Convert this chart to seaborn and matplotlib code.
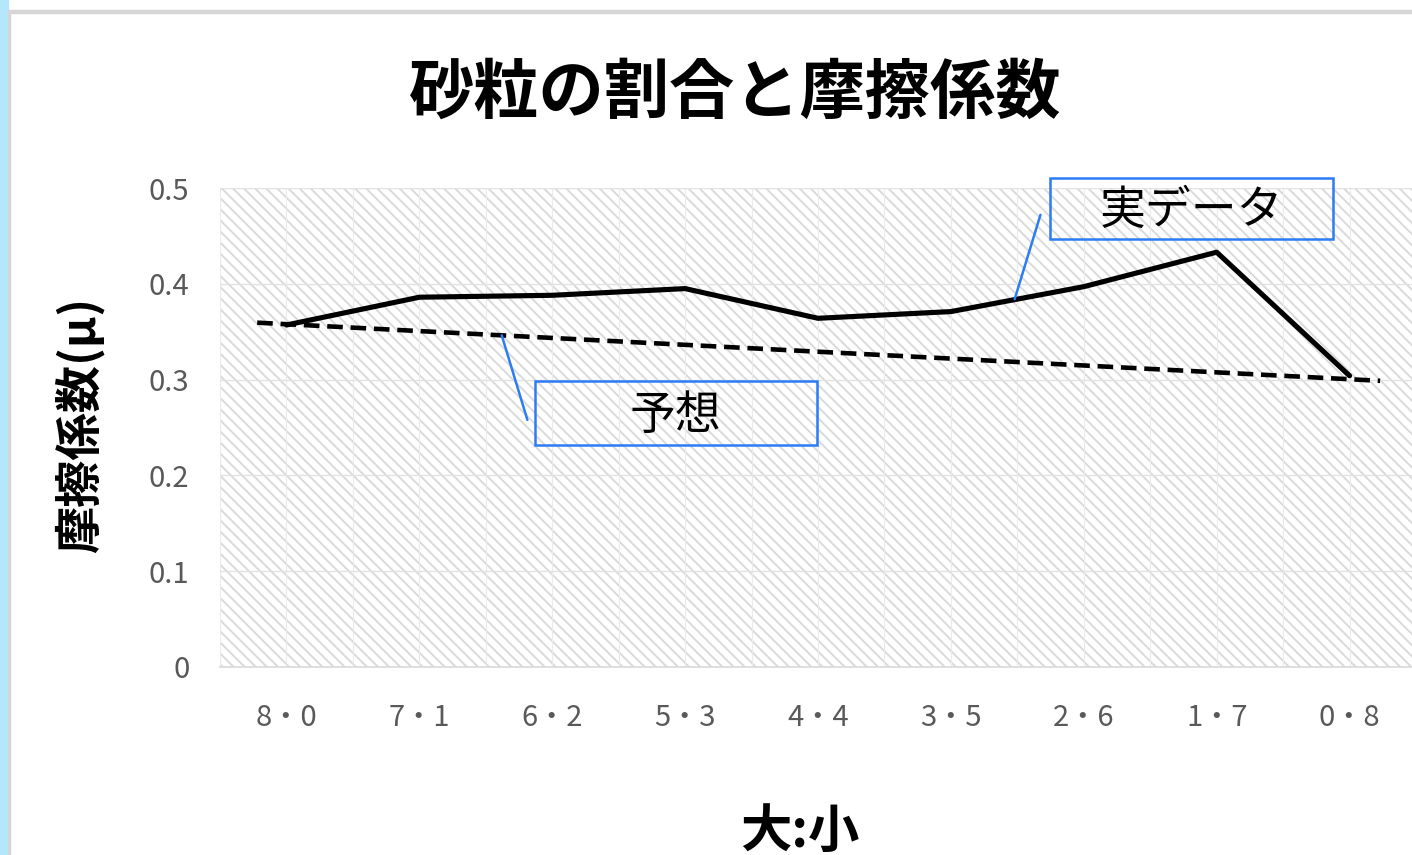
import numpy as np
import pandas as pd
import seaborn as sns
import matplotlib.pyplot as plt
import matplotlib.patches as mpatches

# ratio labels (large : small)
ratios = ['8・0', '7・1', '6・2', '5・3', '4・4', '3・5', '2・6', '1・7', '0・8']
# measured friction coefficient
jitsu_data = [0.357, 0.386, 0.388, 0.395, 0.364, 0.371, 0.397, 0.433, 0.304]
# expected (prediction line) values
yosou = [0.358, 0.351, 0.343, 0.336, 0.329, 0.322, 0.315, 0.308, 0.300]
y_ticks = [0, 0.1, 0.2, 0.3, 0.4, 0.5]
y_tick_labels = ['0', '0.1', '0.2', '0.3', '0.4', '0.5']

sns.set_style('white')
plt.rcParams['font.family'] = ['Noto Sans CJK JP', 'DejaVu Sans']
plt.rcParams['hatch.linewidth'] = 1.4
plt.rcParams['hatch.color'] = '#dadada'
plt.rcParams['text.color'] = 'black'

W, H = 1412, 855
fig = plt.figure(figsize=(W / 100, H / 100), dpi=100)
ax = fig.add_axes([220 / W, 1 - 667 / H, (1416 - 220) / W, (667 - 188) / H])

# screenshot frame: blue strip on the left and grey chart border
fig.patches.append(mpatches.Rectangle((0, 0), 8 / W, 1, transform=fig.transFigure,
                                      color='#b4e7fb', zorder=0))
fig.patches.append(mpatches.Rectangle((8 / W, 0), 2 / W, 1 - 11 / H, transform=fig.transFigure,
                                      color='#d6d6d6', zorder=0))
fig.patches.append(mpatches.Rectangle((8 / W, 1 - 13 / H), 1, 2.5 / H, transform=fig.transFigure,
                                      color='#d6d6d6', zorder=0))

# hatched plot area
ax.add_patch(mpatches.Rectangle((0, 0), 1, 1, transform=ax.transAxes, facecolor='white',
                                edgecolor='#dadada', hatch='\\\\\\', linewidth=0, zorder=0))

df = pd.DataFrame({'x': np.arange(len(ratios)), 'jitsu': jitsu_data, 'yosou': yosou})

# prediction line extended a little beyond the first and last category
coef = np.polyfit(df['x'], df['yosou'], 1)
x_ext = np.array([-0.22, len(ratios) - 1 + 0.23])
trend = pd.DataFrame({'x': x_ext, 'y': np.polyval(coef, x_ext)})

sns.lineplot(data=trend, x='x', y='y', ax=ax, color='black', linewidth=3.3,
             linestyle=(0, (3.4, 1.7)), zorder=3)
sns.lineplot(data=df, x='x', y='jitsu', ax=ax, color='black', linewidth=3.7,
             solid_joinstyle='round', zorder=4)

ax.set_xlim(-0.5, len(ratios) - 0.5)
ax.set_ylim(0, 0.5)
ax.set_yticks(y_ticks)
ax.set_yticklabels(y_tick_labels)
ax.set_xticks(np.arange(len(ratios)))
ax.set_xticklabels(ratios)
ax.set_xticks(np.arange(len(ratios) + 1) - 0.5, minor=True)

ax.grid(axis='y', color='#e2e2e2', linewidth=1.0, zorder=1)
ax.grid(axis='x', which='both', color='#ebebeb', linewidth=0.8, zorder=1)
ax.set_axisbelow(True)

for s in ['top', 'right', 'left']:
    ax.spines[s].set_visible(False)
ax.spines['bottom'].set_color('#d9d9d9')
ax.spines['bottom'].set_linewidth(1.2)

ax.tick_params(axis='y', length=0, pad=22, labelsize=21, labelcolor='#595959')
ax.tick_params(axis='x', which='major', length=0, pad=26, labelsize=21, labelcolor='#595959')
ax.tick_params(axis='x', which='minor', length=9, width=1.2, color='#d9d9d9')
ax.set_xlabel('')
ax.set_ylabel('')

fig.text(735 / W, 1 - 93 / H, '砂粒の割合と摩擦係数', ha='center', va='center',
         fontsize=47, fontweight='bold', color='black')
fig.text(80 / W, 1 - 425 / H, '摩擦係数(μ)', ha='center', va='center', rotation=90,
         fontsize=34, fontweight='bold', color='black')
fig.text(800 / W, 1 - 831 / H, '大:小', ha='center', va='center',
         fontsize=37, fontweight='bold', color='black')

# data callouts
blue = '#2b7cf6'
ax.add_patch(mpatches.Rectangle((0.694, 0.894), 0.237, 0.127, transform=ax.transAxes,
                                fill=False, edgecolor=blue, linewidth=1.8, clip_on=False, zorder=6))
ax.text(0.8125, 0.952, '実データ', transform=ax.transAxes, ha='center', va='center',
        fontsize=33, color='black', zorder=7)
ax.annotate('', xy=(5.48, 0.384), xytext=(0.686, 0.944), textcoords='axes fraction',
            arrowprops=dict(arrowstyle='-', color=blue, linewidth=1.8, shrinkA=0, shrinkB=0),
            zorder=6)

ax.add_patch(mpatches.Rectangle((0.263, 0.463), 0.236, 0.134, transform=ax.transAxes,
                                fill=False, edgecolor=blue, linewidth=1.8, zorder=6))
ax.text(0.381, 0.525, '予想', transform=ax.transAxes, ha='center', va='center',
        fontsize=33, color='black', zorder=7)
ax.annotate('', xy=(1.62, float(np.polyval(coef, 1.62))), xytext=(0.257, 0.516),
            textcoords='axes fraction',
            arrowprops=dict(arrowstyle='-', color=blue, linewidth=1.8, shrinkA=0, shrinkB=0),
            zorder=6)

fig.savefig('out.png', dpi=100)
